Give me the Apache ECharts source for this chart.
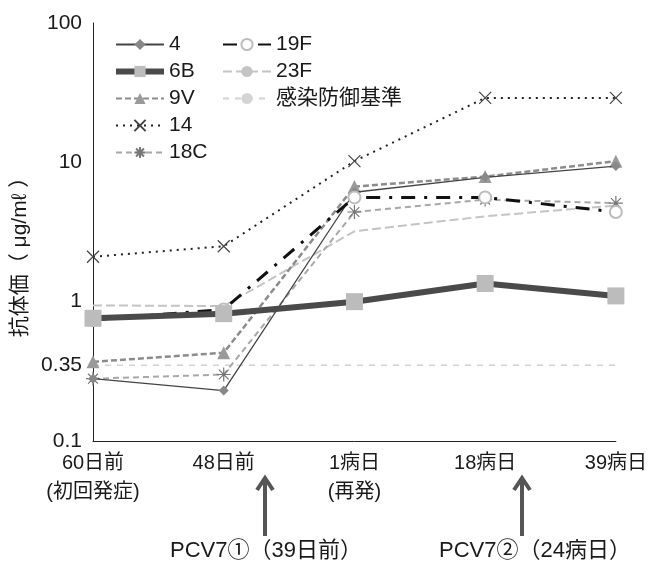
<!DOCTYPE html>
<html>
<head>
<meta charset="utf-8">
<script src="https://cdn.jsdelivr.net/npm/echarts@6/dist/echarts.min.js"></script>
<style>
html,body{margin:0;padding:0;background:#fff;}
#chart{width:650px;height:565px;}
</style>
</head>
<body>
<div id="chart"></div>
<script>
// ---- data ----
const categories = ['60日前\n(初回発症)', '48日前', '1病日\n(再発)', '18病日', '39病日'];
const s4   = [0.28, 0.23, 6.1, 7.8, 9.4];
const s6B  = [0.76, 0.82, 1.0, 1.35, 1.1];
const s9V  = [0.37, 0.43, 6.7, 7.9, 10.2];
const s14  = [2.1, 2.5, 10.2, 29, 29];
const s18C = [0.28, 0.30, 4.4, 5.4, 5.1];
const s19F = [0.74, 0.88, 5.6, 5.6, 4.4];
const s23F = [0.94, 0.93, 3.2, 4.1, 4.9];
const threshold = [0.35, 0.35, 0.35, 0.35, 0.35];
const yTicks = [0.1, 1, 10, 100];
const thresholdLabel = '0.35';
const annotations = ['PCV7①（39日前）', 'PCV7②（24病日）'];

const FONT = '"Liberation Sans", "Noto Sans CJK JP", sans-serif';
const X_PATH = 'path://M0,0 L10,10 M10,0 L0,10';
const AST_PATH = 'path://M5,0 L5,10 M0,5 L10,5 M1.5,1.5 L8.5,8.5 M8.5,1.5 L1.5,8.5';

const chart = echarts.init(document.getElementById('chart'), null, {renderer: 'canvas'});

const thresholdData = threshold.map((v, i) => i === 0 ? {
  value: v,
  label: {show: true, position: 'left', distance: 11, formatter: thresholdLabel,
          color: '#1a1a1a', fontSize: 21, fontFamily: FONT}
} : v);

const legendText = {fontSize: 21, color: '#1a1a1a', fontFamily: FONT};

const option = {
  backgroundColor: '#fff',
  animation: false,
  grid: {left: 93, right: 32, top: 23, bottom: 124},
  legend: [
    {data: ['4', {name: '6B', lineStyle: {width: 6}}, '9V', '14', '18C'], orient: 'vertical', left: 113, top: 34,
     itemWidth: 48, itemHeight: 14, itemGap: 6, padding: 0, textStyle: legendText},
    {data: ['19F', '23F', '感染防御基準'], orient: 'vertical', left: 222, top: 34,
     itemWidth: 48, itemHeight: 14, itemGap: 6, padding: 0, textStyle: legendText}
  ],
  xAxis: {
    type: 'category', data: categories, boundaryGap: false,
    axisLine: {lineStyle: {color: '#222', width: 1}},
    axisTick: {show: false},
    axisLabel: {fontSize: 20, lineHeight: 29, color: '#1a1a1a', fontFamily: FONT, margin: 8, interval: 0}
  },
  yAxis: {
    type: 'log', logBase: 10, min: yTicks[0], max: yTicks[yTicks.length - 1],
    name: '抗体価（ μg/mℓ ）', nameLocation: 'middle', nameGap: 62, nameRotate: 90,
    nameTextStyle: {fontSize: 21, color: '#1a1a1a', fontFamily: FONT, padding: [0, 40, 0, 0]},
    axisLine: {show: true, lineStyle: {color: '#222', width: 1}},
    axisTick: {show: false},
    splitLine: {show: false},
    minorSplitLine: {show: false},
    axisLabel: {fontSize: 21, color: '#1a1a1a', fontFamily: FONT, margin: 11,
                formatter: v => String(+v.toPrecision(3))}
  },
  series: [
    {name: '感染防御基準', type: 'line', data: thresholdData, symbol: 'circle', symbolSize: 0.01, z: 1,
     showSymbol: true, clip: false,
     lineStyle: {color: '#d4d4d4', width: 1.5, type: [6, 6]}, itemStyle: {color: '#d4d4d4'}},
    {name: '23F', type: 'line', data: s23F, symbol: 'none', z: 2,
     lineStyle: {color: '#c4c4c4', width: 2, type: [9, 4]}, itemStyle: {color: '#c4c4c4'}},
    {name: '18C', type: 'line', data: s18C, symbol: AST_PATH, symbolSize: 14, z: 3,
     lineStyle: {color: '#a8a8a8', width: 2, type: [6, 4]},
     itemStyle: {color: 'rgba(0,0,0,0)', borderColor: '#777', borderWidth: 1.2}},
    {name: '9V', type: 'line', data: s9V, symbol: 'triangle', symbolSize: 13, z: 4,
     lineStyle: {color: '#8c8c8c', width: 2.5, type: [6, 3]},
     itemStyle: {color: '#9a9a9a'}},
    {name: '4', type: 'line', data: s4, symbol: 'diamond', symbolSize: 10, z: 5,
     lineStyle: {color: '#444', width: 1.3, type: 'solid'},
     itemStyle: {color: '#888'}},
    {name: '19F', type: 'line', data: s19F, symbol: 'emptyCircle', symbolSize: 12, z: 6,
     lineStyle: {color: '#111', width: 3, type: [14, 9, 3, 9]},
     itemStyle: {color: '#bdbdbd', borderColor: '#bdbdbd', borderWidth: 1.5}},
    {name: '14', type: 'line', data: s14, symbol: X_PATH, symbolSize: 12, z: 7,
     lineStyle: {color: '#222', width: 2, type: [2, 5]},
     itemStyle: {color: 'rgba(0,0,0,0)', borderColor: '#444', borderWidth: 1.2}},
    {name: '6B', type: 'line', data: s6B, symbol: 'rect', symbolSize: 17, z: 8,
     lineStyle: {color: '#4a4a4a', width: 6, type: 'solid'},
     itemStyle: {color: '#bcbcbc'}}
  ],
  graphic: []
};

chart.setOption(option);

// annotation arrows under the x axis
function arrow(x, yTop, yBot) {
  return [
    {type: 'line', shape: {x1: x, y1: yTop + 3, x2: x, y2: yBot}, style: {stroke: '#555', lineWidth: 4}},
    {type: 'polyline', shape: {points: [[x - 8, yTop + 12], [x, yTop], [x + 8, yTop + 12]]},
     style: {stroke: '#555', lineWidth: 4, fill: null}}
  ];
}
const gr = [].concat(
  arrow(265, 478, 536),
  arrow(522, 478, 536),
  [
    {type: 'text', x: 266, y: 551, style: {text: annotations[0], fontSize: 22, fontFamily: FONT, fill: '#1a1a1a', align: 'center', verticalAlign: 'middle'}},
    {type: 'text', x: 535, y: 551, style: {text: annotations[1], fontSize: 22, fontFamily: FONT, fill: '#1a1a1a', align: 'center', verticalAlign: 'middle'}}
  ]
);
chart.setOption({graphic: gr});
</script>
</body>
</html>
